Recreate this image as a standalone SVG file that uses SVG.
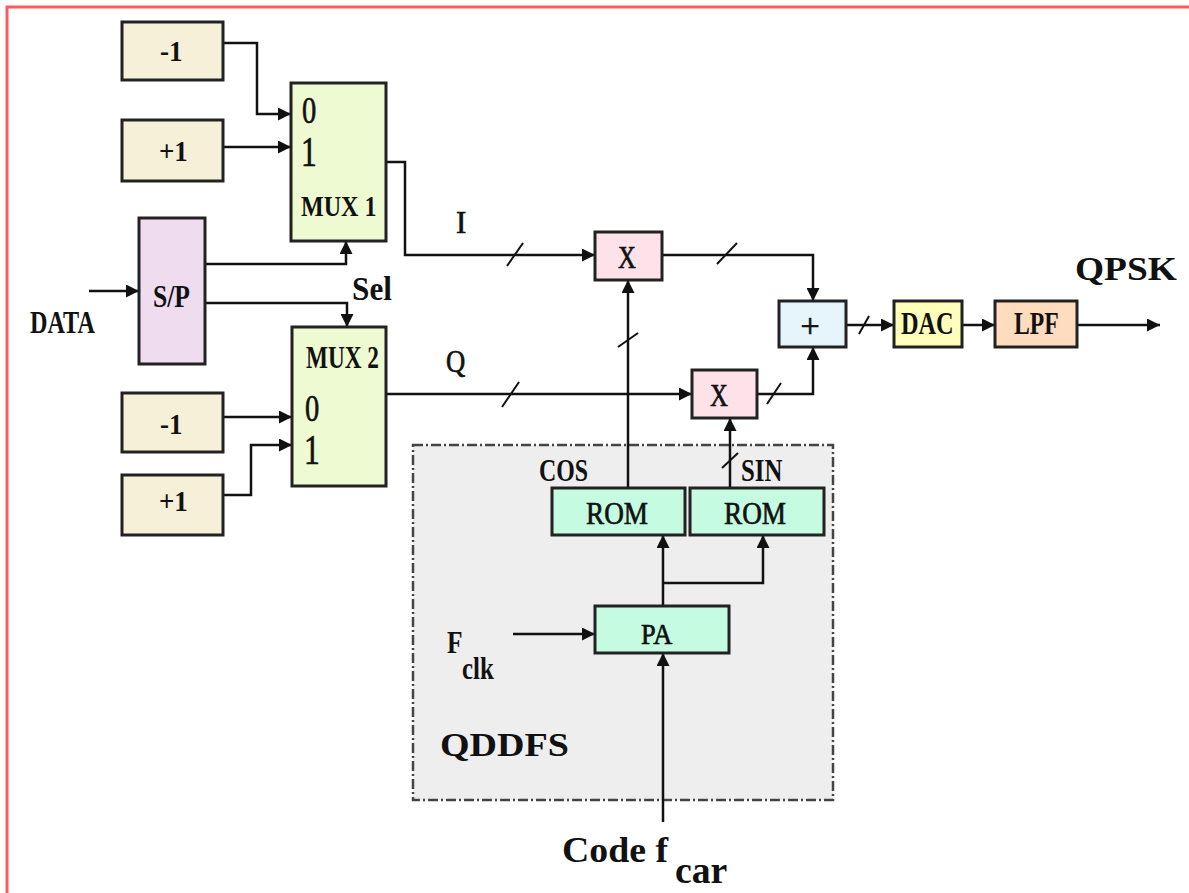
<svg xmlns="http://www.w3.org/2000/svg" width="1189" height="893" viewBox="0 0 1189 893">
<defs>
<marker id="ah" viewBox="0 0 12 12" refX="12" refY="6" markerWidth="13" markerHeight="13" markerUnits="userSpaceOnUse" orient="auto">
<path d="M0,0 L12,6 L0,12 Z" fill="#111"/>
</marker>
<style>
.box{stroke:#222;stroke-width:3}
.w{fill:none;stroke:#111;stroke-width:2.5}
.sl{fill:none;stroke:#111;stroke-width:2}
.t{font-family:"Liberation Serif","Times New Roman",serif;fill:#111}
.b{font-weight:bold}
.m{stroke:#111;stroke-width:0.7}
.beige{fill:#f6f0d9}
.mux{fill:#eefad2}
.sp{fill:#efdcef}
.mul{fill:#fde2ea}
.add{fill:#e6f5fb}
.dac{fill:#ffffbc}
.lpf{fill:#ffdcbd}
.rom{fill:#c5fbe0}
</style>
</defs>
<rect x="0" y="0" width="1189" height="893" fill="#fff"/>
<path d="M7,893 V7 H1189" fill="none" stroke="#ff5a60" stroke-width="3"/>

<g id="qddfs">
<rect x="413" y="445" width="420" height="355" fill="#eeeeee" stroke="#444" stroke-width="2.5" stroke-dasharray="10,3,2,3"/>
<text class="t b" font-size="34" transform="translate(440,756) scale(1.12,1)">QDDFS</text>
</g>

<g id="connectors">
<path class="w" d="M223,43 H257 V114 H291" marker-end="url(#ah)"/>
<path class="w" d="M223,147 H291" marker-end="url(#ah)"/>
<path class="w" d="M205,264 H346 V241" marker-end="url(#ah)"/>
<path class="w" d="M205,303 H347 V327" marker-end="url(#ah)"/>
<path class="w" d="M89,291 H139" marker-end="url(#ah)"/>
<path class="w" d="M223,417 H292" marker-end="url(#ah)"/>
<path class="w" d="M223,495 H251 V445 H292" marker-end="url(#ah)"/>
<path class="w" d="M386,162 H405 V255 H595" marker-end="url(#ah)"/>
<path class="w" d="M386,394 H692" marker-end="url(#ah)"/>
<path class="w" d="M662,255 H813 V301" marker-end="url(#ah)"/>
<path class="w" d="M757,394 H813 V347" marker-end="url(#ah)"/>
<path class="w" d="M846,325 H894" marker-end="url(#ah)"/>
<path class="w" d="M962,325 H995" marker-end="url(#ah)"/>
<path class="w" d="M1077,325 H1160" marker-end="url(#ah)"/>
<path class="w" d="M628,488 V280" marker-end="url(#ah)"/>
<path class="w" d="M730,488 V418" marker-end="url(#ah)"/>
<path class="w" d="M663,606 V535" marker-end="url(#ah)"/>
<path class="w" d="M663,583 H763 V535" marker-end="url(#ah)"/>
<path class="w" d="M513,634 H595" marker-end="url(#ah)"/>
<path class="w" d="M663,822 V653" marker-end="url(#ah)"/>
<path class="sl" d="M507,266 L523,243"/>
<path class="sl" d="M717,264 L737,243"/>
<path class="sl" d="M502,407 L519,382"/>
<path class="sl" d="M767,404 L781,383"/>
<path class="sl" d="M618,347 L638,333"/>
<path class="sl" d="M722,468 L738,453"/>
<path class="sl" d="M859,334 L869,316"/>
</g>

<g id="minus1a">
<rect class="box beige" x="122" y="22" width="101" height="58"/>
<text class="t b" font-size="30" transform="translate(160,61) scale(0.9,1)">-1</text>
</g>
<g id="plus1a">
<rect class="box beige" x="122" y="120" width="101" height="61"/>
<text class="t b" font-size="30" transform="translate(159,161) scale(0.9,1)">+1</text>
</g>
<g id="mux1">
<rect class="box mux" x="291" y="83" width="95" height="158"/>
<text class="t m" font-size="38" transform="translate(302,123) scale(0.75,1)">0</text>
<text class="t m" font-size="42" transform="translate(301,166) scale(0.75,1)">1</text>
<text class="t b" font-size="29" transform="translate(301,216) scale(0.83,1)">MUX 1</text>
</g>
<g id="sp">
<rect class="box sp" x="139" y="218" width="66" height="146"/>
<text class="t b" font-size="32" transform="translate(153,307) scale(0.8,1)">S/P</text>
</g>
<g id="data">
<text class="t b" font-size="31" transform="translate(30,333) scale(0.78,1)">DATA</text>
</g>
<g id="sel">
<text class="t b" font-size="34" transform="translate(352,300) scale(0.92,1)">Sel</text>
</g>
<g id="mux2">
<rect class="box mux" x="292" y="327" width="94" height="159"/>
<text class="t b" font-size="31" transform="translate(306,368) scale(0.75,1)">MUX 2</text>
<text class="t m" font-size="38" transform="translate(305,421) scale(0.75,1)">0</text>
<text class="t m" font-size="42" transform="translate(304,464) scale(0.75,1)">1</text>
</g>
<g id="minus1b">
<rect class="box beige" x="122" y="393" width="101" height="59"/>
<text class="t b" font-size="30" transform="translate(160,434) scale(0.9,1)">-1</text>
</g>
<g id="plus1b">
<rect class="box beige" x="122" y="475" width="101" height="60"/>
<text class="t b" font-size="30" transform="translate(159,511) scale(0.9,1)">+1</text>
</g>
<g id="labelI"><text class="t m" font-size="31" transform="translate(456,233)">I</text></g>
<g id="labelQ"><text class="t m" font-size="31" transform="translate(446,372) scale(0.86,1)">Q</text></g>
<g id="mulI">
<rect class="box mul" x="595" y="232" width="67" height="48"/>
<text class="t m" font-size="31" transform="translate(618,268) scale(0.8,1)">X</text>
</g>
<g id="mulQ">
<rect class="box mul" x="692" y="370" width="65" height="48"/>
<text class="t m" font-size="31" transform="translate(710,406) scale(0.8,1)">X</text>
</g>
<g id="adder">
<rect class="box add" x="779" y="301" width="67" height="46"/>
<text class="t m" x="810" y="337" font-size="34" text-anchor="middle">+</text>
</g>
<g id="dac">
<rect class="box dac" x="894" y="301" width="68" height="46"/>
<text class="t b" font-size="32" transform="translate(901,334) scale(0.76,1)">DAC</text>
</g>
<g id="lpf">
<rect class="box lpf" x="995" y="301" width="82" height="46"/>
<text class="t b" font-size="32" transform="translate(1014,334) scale(0.74,1)">LPF</text>
</g>
<g id="qpsk">
<text class="t b" font-size="34" transform="translate(1075,280) scale(1.1,1)">QPSK</text>
</g>
<g id="romcos">
<rect class="box rom" x="552" y="488" width="133" height="47"/>
<text class="t m" font-size="32" transform="translate(586,524) scale(0.85,1)">ROM</text>
<text class="t b" font-size="31" transform="translate(539,481) scale(0.77,1)">COS</text>
</g>
<g id="romsin">
<rect class="box rom" x="690" y="488" width="134" height="47"/>
<text class="t m" font-size="32" transform="translate(724,524) scale(0.85,1)">ROM</text>
<text class="t b" font-size="31" transform="translate(741,481) scale(0.8,1)">SIN</text>
</g>
<g id="pa">
<rect class="box rom" x="595" y="606" width="134" height="47"/>
<text class="t m" font-size="30" transform="translate(641,644) scale(0.88,1)">PA</text>
</g>
<g id="fclk">
<text class="t b" font-size="31" transform="translate(447,653) scale(0.82,1)">F</text>
<text class="t b" font-size="31" transform="translate(462,679) scale(0.8,1)">clk</text>
</g>
<g id="code">
<text class="t b" font-size="36" transform="translate(562,862) scale(1.05,1)">Code f</text>
<text class="t b" font-size="37" transform="translate(675,883) scale(1.02,1)">car</text>
</g>
</svg>
